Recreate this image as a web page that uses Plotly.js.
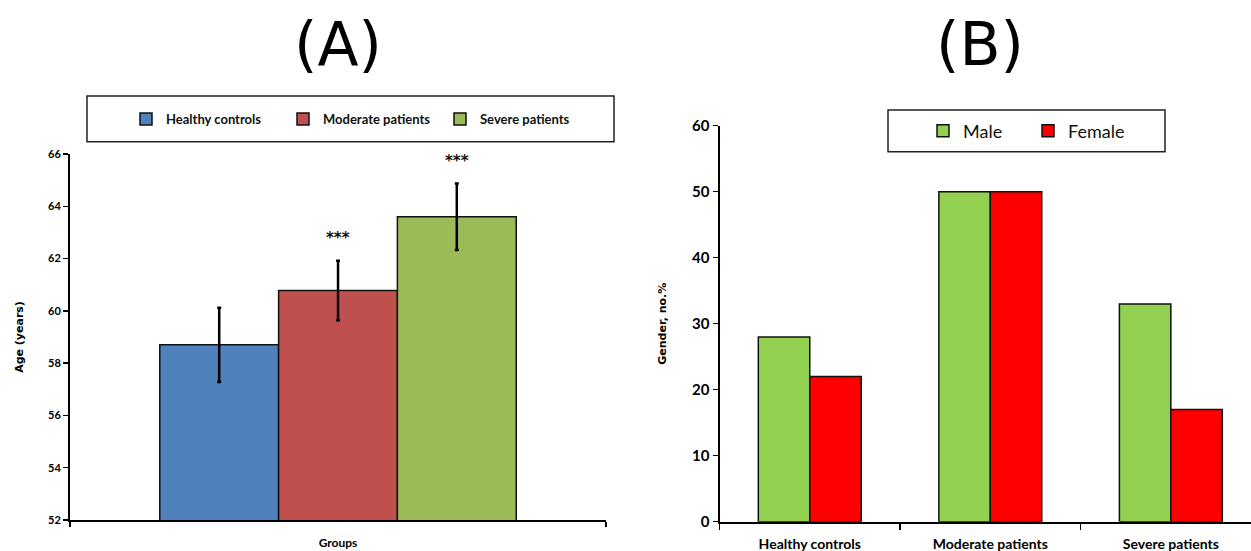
<!DOCTYPE html>
<html>
<head>
<meta charset="utf-8">
<script src="https://cdn.plot.ly/plotly-3.0.1.min.js"></script>
<style>html,body{margin:0;padding:0;background:#fff;}#chart{width:1251px;height:551px;}</style>
</head>
<body>
<div id="chart"></div>
<script>
// Panel A data: age by group
const groupsA = ['Groups'];
const seriesA = ['Healthy controls', 'Moderate patients', 'Severe patients'];
const ageMean = [58.7, 60.78, 63.6];
const ageErr = [1.42, 1.14, 1.27];
const ageSig = ['', '***', '***'];
const colorsA = ['#4f81bd', '#c0504d', '#9bbb59'];

// Panel B data: gender percentage
const groupsB = ['Healthy controls', 'Moderate patients', 'Severe patients'];
const male = [28, 50, 33];
const female = [22, 50, 17];
const seriesB = ['Male', 'Female'];
const colorsB = ['#92d050', '#ff0000'];

const W = 1251, H = 551;
const px = x => x / W;
const py = y => (H - y) / H;

const barW = 0.2217;
const offsetsA = [-0.3325, -0.1108, 0.1108];

const traces = [];
seriesA.forEach((name, i) => {
  traces.push({
    type: 'bar', name: name, x: groupsA, y: [ageMean[i]],
    xaxis: 'x', yaxis: 'y', legend: 'legend',
    width: barW, offset: offsetsA[i],
    marker: {color: colorsA[i], line: {color: '#111', width: 1.5}},
    error_y: {type: 'data', array: [ageErr[i]], visible: true, color: '#000', thickness: 2.5, width: 2},
    hoverinfo: 'none'
  });
});
[male, female].forEach((vals, i) => {
  traces.push({
    type: 'bar', name: seriesB[i], x: groupsB, y: vals,
    xaxis: 'x2', yaxis: 'y2', legend: 'legend2',
    marker: {color: colorsB[i], line: {color: '#111', width: 1.5}},
    hoverinfo: 'none'
  });
});

const annotations = [
  {text: '(A)', xref: 'paper', yref: 'paper', x: px(338), y: py(44), xanchor: 'center', yanchor: 'middle', showarrow: false,
   font: {family: 'DejaVu Sans', size: 60, color: '#000'}},
  {text: '(B)', xref: 'paper', yref: 'paper', x: px(980), y: py(44), xanchor: 'center', yanchor: 'middle', showarrow: false,
   font: {family: 'DejaVu Sans', size: 60, color: '#000'}}
];
const centerShiftPx = [-119, 0, 119];
seriesA.forEach((name, i) => {
  if (ageSig[i]) {
    annotations.push({
      text: ageSig[i], xref: 'x', yref: 'y', x: groupsA[0], y: ageMean[i] + ageErr[i] + 0.85,
      xshift: centerShiftPx[i], xanchor: 'center', yanchor: 'middle', showarrow: false,
      font: {family: 'DejaVu Sans', size: 15, color: '#111', weight: 'bold'}
    });
  }
});

const layout = {
  width: W, height: H,
  margin: {l: 0, r: 0, t: 0, b: 0, pad: 0},
  paper_bgcolor: '#fff', plot_bgcolor: 'rgba(0,0,0,0)',
  barmode: 'group', bargap: 0.43, bargroupgap: 0,
  showlegend: true,
  xaxis: {
    domain: [px(70), px(606)], range: [-0.5, 0.5], type: 'category',
    showline: true, linecolor: '#000', linewidth: 2,
    ticks: 'outside', tickson: 'boundaries', ticklen: 5, tickwidth: 1.5, tickcolor: '#000',
    showticklabels: false, showgrid: false, zeroline: false, fixedrange: true,
    title: {text: 'Groups', standoff: 18, font: {family: 'Lato', size: 12, color: '#000', weight: 'bold'}}
  },
  yaxis: {
    domain: [py(520), py(154)], range: [52, 66], dtick: 2, tick0: 52,
    showline: true, linecolor: '#000', linewidth: 2,
    ticks: 'outside', ticklen: 5, tickwidth: 1.5, tickcolor: '#000',
    tickfont: {family: 'Lato', size: 11, color: '#000', weight: 'bold'},
    showgrid: false, zeroline: false, fixedrange: true,
    title: {text: 'Age (years)', standoff: 22, font: {family: 'DejaVu Sans', size: 11, color: '#000', weight: 'bold'}}
  },
  xaxis2: {
    domain: [px(719.5), 1], range: [-0.5, 2.444], type: 'category', anchor: 'y2',
    showline: true, linecolor: '#000', linewidth: 2,
    ticks: 'outside', tickson: 'boundaries', ticklen: 6, tickwidth: 1.5, tickcolor: '#000',
    ticklabelstandoff: 8,
    tickfont: {family: 'Lato', size: 14, color: '#000', weight: 'bold'},
    showgrid: false, zeroline: false, fixedrange: true
  },
  yaxis2: {
    domain: [py(521.7), py(125.7)], range: [0, 60], dtick: 10, anchor: 'x2',
    showline: true, linecolor: '#000', linewidth: 2,
    ticks: 'outside', ticklen: 5, tickwidth: 1.5, tickcolor: '#000',
    tickfont: {family: 'Lato', size: 15, color: '#000', weight: 'bold'},
    showgrid: false, zeroline: false, fixedrange: true,
    title: {text: 'Gender, no.%', standoff: 23, font: {family: 'DejaVu Sans', size: 11, color: '#000', weight: 'bold'}}
  },
  legend: {
    orientation: 'h', x: px(126), xanchor: 'left', y: py(119), yanchor: 'middle',
    entrywidth: 112, entrywidthmode: 'pixels',
    bgcolor: 'rgba(0,0,0,0)', borderwidth: 0, traceorder: 'normal',
    font: {family: 'Lato', size: 13, color: '#111', weight: 'bold'}
  },
  legend2: {
    orientation: 'h', x: px(923), xanchor: 'left', y: py(131), yanchor: 'middle',
    entrywidth: 60, entrywidthmode: 'pixels',
    bgcolor: 'rgba(0,0,0,0)', borderwidth: 0, traceorder: 'normal',
    font: {family: 'Lato', size: 18, color: '#111'}
  },
  shapes: [
    {type: 'rect', xref: 'paper', yref: 'paper', x0: px(87), x1: px(614), y0: py(141.7), y1: py(96),
     line: {color: '#222', width: 1.5}, fillcolor: 'rgba(0,0,0,0)', layer: 'below'},
    {type: 'rect', xref: 'paper', yref: 'paper', x0: px(888), x1: px(1165), y0: py(151.7), y1: py(110),
     line: {color: '#222', width: 1.5}, fillcolor: 'rgba(0,0,0,0)', layer: 'below'}
  ],
  annotations: annotations
};

Plotly.newPlot('chart', traces, layout, {displayModeBar: false, staticPlot: true});
</script>
</body>
</html>
